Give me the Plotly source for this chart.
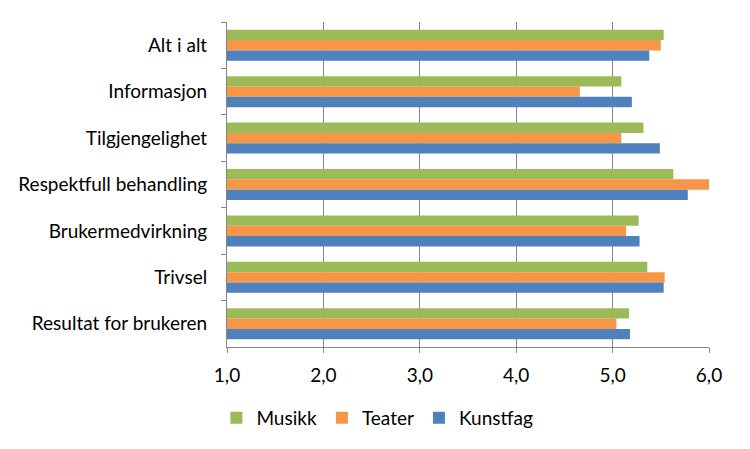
import plotly.graph_objects as go

categories = ["Alt i alt", "Informasjon", "Tilgjengelighet", "Respektfull behandling",
              "Brukermedvirkning", "Trivsel", "Resultat for brukeren"]
musikk = [5.53, 5.09, 5.32, 5.63, 5.27, 5.36, 5.17]
teater = [5.50, 4.66, 5.09, 6.00, 5.14, 5.54, 5.04]
kunstfag = [5.38, 5.20, 5.49, 5.78, 5.28, 5.53, 5.18]
x_ticks = [1, 2, 3, 4, 5, 6]
x_labels = ["1,0", "2,0", "3,0", "4,0", "5,0", "6,0"]

series = [("Musikk", musikk, "#9BBB59"), ("Teater", teater, "#F79646"), ("Kunstfag", kunstfag, "#4F81BD")]

fig = go.Figure()
for name, vals, col in series:
    fig.add_trace(go.Bar(y=categories, x=vals, orientation="h", name=name,
                         marker=dict(color=col, line=dict(width=0))))

font_family = "Lato, Calibri, Carlito, sans-serif"
fig.update_layout(
    width=750, height=449,
    margin=dict(l=219, r=49, t=14, b=110),
    paper_bgcolor="white", plot_bgcolor="white",
    barmode="group", bargap=0.333, bargroupgap=0,
    font=dict(family=font_family, size=19, color="#000000"),
    showlegend=True,
    legend=dict(orientation="h", x=0.312, xanchor="center", y=-0.218, yanchor="middle",
                font=dict(size=19), itemwidth=30, traceorder="normal"),
    xaxis=dict(range=[1, 6], tickvals=x_ticks, ticktext=x_labels,
               showgrid=True, gridcolor="#868686", gridwidth=1,
               showline=True, linecolor="#868686", linewidth=1,
               ticks="outside", ticklen=5, tickcolor="#868686",
               zeroline=False, tickfont=dict(size=19), automargin=False,
               ticklabelstandoff=6),
    yaxis=dict(autorange="reversed", showline=True, linecolor="#868686", linewidth=1,
               ticks="outside", ticklen=5, tickcolor="#868686", tickson="boundaries",
               showgrid=False, tickfont=dict(size=19), ticklabelstandoff=15,
               automargin=False),
)
fig.write_html("out.html")
